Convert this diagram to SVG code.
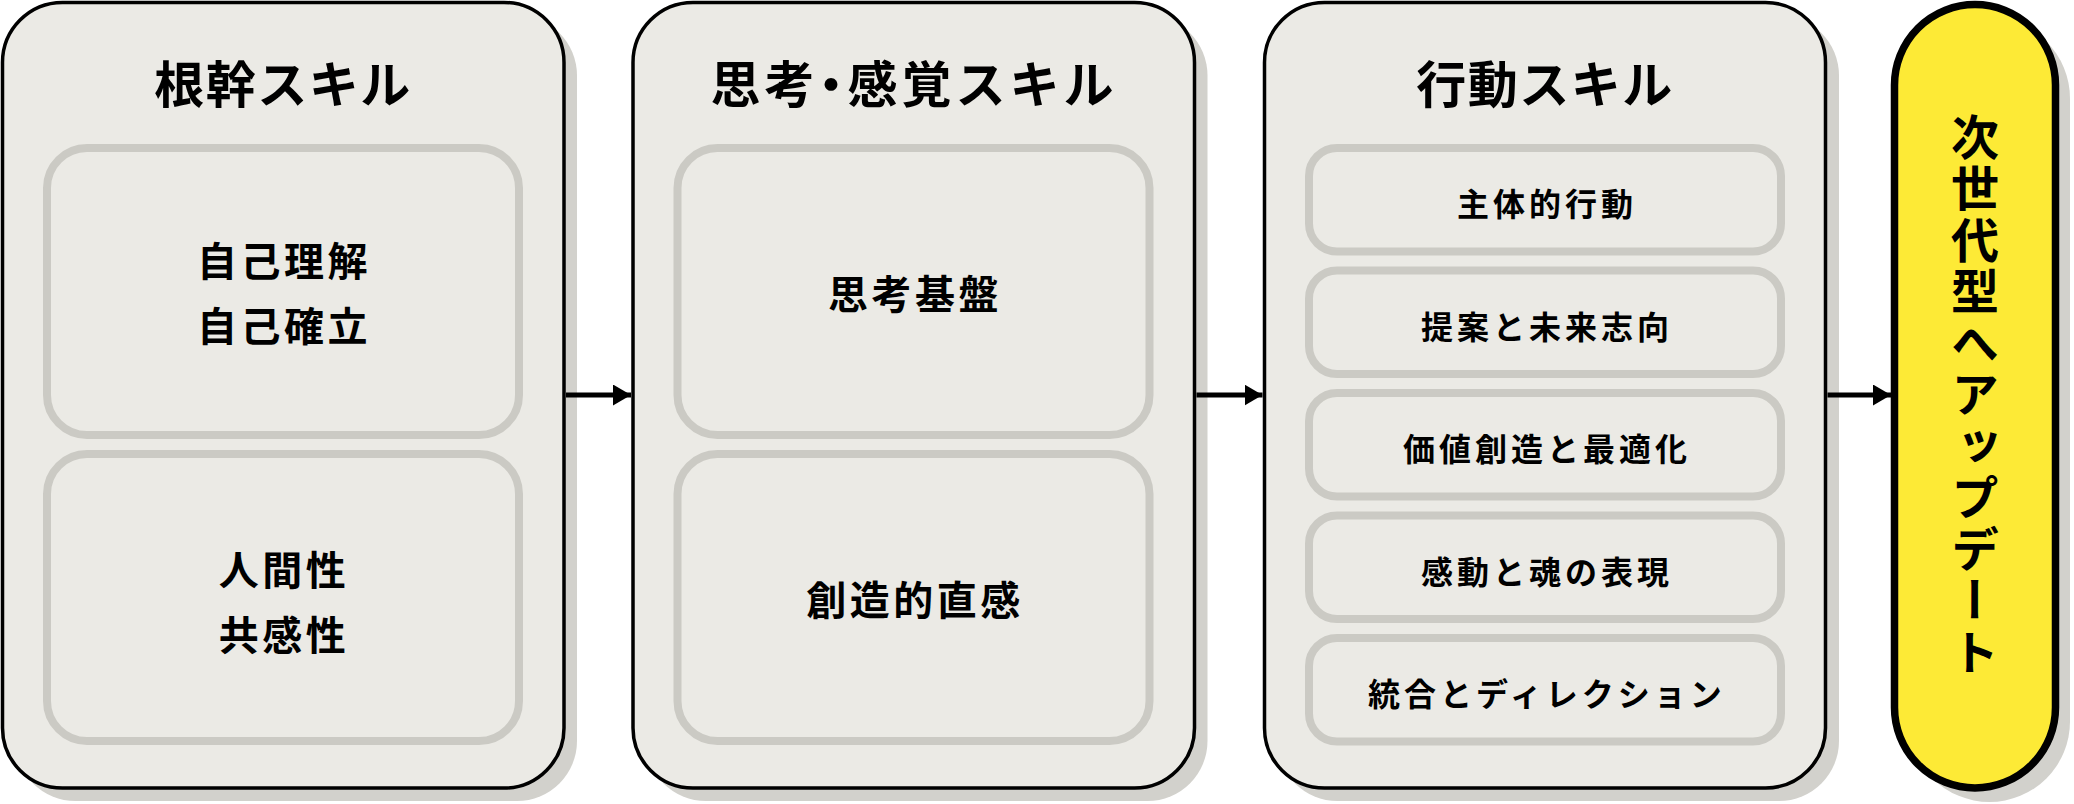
<svg xmlns="http://www.w3.org/2000/svg" width="2074" height="804" viewBox="0 0 2074 804">
<defs>
<style>
.shadow{fill:#d2d1cc;}
.outer{fill:#ebeae5;stroke:#000;stroke-width:3.5;}
.inner{fill:none;stroke:#cbcac4;stroke-width:8;}
.pill{fill:#fdea36;stroke:#000;stroke-width:7.5;}
.t{font-family:"Noto Sans CJK JP","Noto Sans",sans-serif;font-weight:700;fill:#000;text-anchor:middle;dominant-baseline:central;}
.title{font-size:50px;letter-spacing:1.5px;}
.big{font-size:40px;letter-spacing:3.5px;}
.small{font-size:32px;letter-spacing:4px;}
.vert{font-size:48px;letter-spacing:3.5px;writing-mode:vertical-rl;}
.conn{stroke:#000;stroke-width:5;fill:none;}
</style>
<marker id="arr" viewBox="0 0 18 21" refX="18" refY="10.5" markerWidth="18" markerHeight="21" markerUnits="userSpaceOnUse" orient="auto">
<path d="M0,0 L18,10.5 L0,21 Z" fill="#000"/>
</marker>
</defs>
<rect width="2074" height="804" fill="#fff"/>

<g id="node-root">
<rect class="shadow" x="15.5" y="15.5" width="561.5" height="785.5" rx="60"/>
<rect class="outer" x="2.5" y="2.5" width="561.5" height="785.5" rx="60"/>
<text class="t title" x="283" y="81">根幹スキル</text>
<rect class="inner" x="47" y="148" width="472" height="287" rx="40"/>
<text class="t big" x="284" y="258.5">自己理解</text>
<text class="t big" x="284" y="323.5">自己確立</text>
<rect class="inner" x="47" y="454" width="472" height="287" rx="40"/>
<text class="t big" x="284" y="568">人間性</text>
<text class="t big" x="284" y="633">共感性</text>
</g>

<g id="node-thinking">
<rect class="shadow" x="646" y="15.5" width="561.5" height="785.5" rx="60"/>
<rect class="outer" x="633" y="2.5" width="561.5" height="785.5" rx="60"/>
<text class="t title" x="914" y="81" style="letter-spacing:4px">思考<tspan style="font-feature-settings:'palt'">・</tspan>感覚スキル</text>
<rect class="inner" x="677.5" y="148" width="472" height="287" rx="40"/>
<text class="t big" x="915" y="291.5">思考基盤</text>
<rect class="inner" x="677.5" y="454" width="472" height="287" rx="40"/>
<text class="t big" x="915" y="597.5">創造的直感</text>
</g>

<g id="node-action">
<rect class="shadow" x="1277.5" y="15.5" width="561.5" height="785.5" rx="60"/>
<rect class="outer" x="1264.5" y="2.5" width="561" height="785.5" rx="60"/>
<text class="t title" x="1545" y="81">行動スキル</text>
<rect class="inner" x="1309" y="148" width="472" height="103.5" rx="28"/>
<text class="t small" x="1547" y="202">主体的行動</text>
<rect class="inner" x="1309" y="270.5" width="472" height="103.5" rx="28"/>
<text class="t small" x="1547" y="324.5">提案と未来志向</text>
<rect class="inner" x="1309" y="393" width="472" height="103.5" rx="28"/>
<text class="t small" x="1547" y="447">価値創造と最適化</text>
<rect class="inner" x="1309" y="515.5" width="472" height="103.5" rx="28"/>
<text class="t small" x="1547" y="569.5">感動と魂の表現</text>
<rect class="inner" x="1309" y="638" width="472" height="103.5" rx="28"/>
<text class="t small" x="1547" y="692">統合とディレクション</text>
</g>

<g id="node-update">
<rect class="shadow" x="1909" y="18" width="161" height="784" rx="80.5"/>
<rect class="pill" x="1894.5" y="4.5" width="161" height="783.5" rx="80.5"/>
<text class="t vert" x="1975" y="396">次世代型へアップデート</text>
</g>

<g id="connectors">
<line class="conn" x1="566" y1="395" x2="631" y2="395" marker-end="url(#arr)"/>
<line class="conn" x1="1196.5" y1="395" x2="1262.5" y2="395" marker-end="url(#arr)"/>
<line class="conn" x1="1827.5" y1="395" x2="1891" y2="395" marker-end="url(#arr)"/>
</g>
</svg>
